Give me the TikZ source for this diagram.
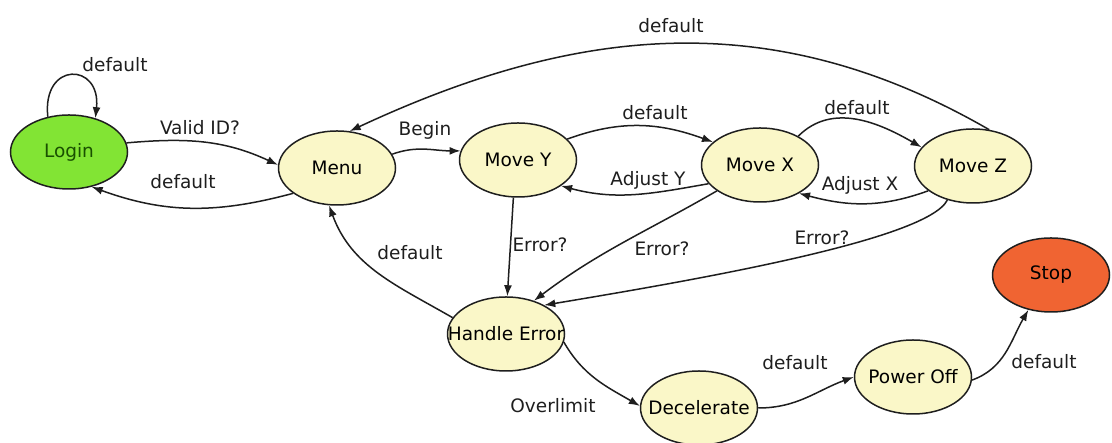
\documentclass[tikz,border=0pt]{standalone}
\usepackage{fontspec}
\setmainfont{DejaVu Sans}
\usetikzlibrary{shapes.geometric,arrows.meta}
\definecolor{cream}{RGB}{250,247,200}
\definecolor{lime}{RGB}{130,228,52}
\definecolor{tomato}{RGB}{240,100,50}
\definecolor{ink}{RGB}{30,30,30}
\definecolor{leaf}{RGB}{25,80,0}

\begin{document}
\begin{tikzpicture}[x=1pt,y=1pt,font=\fontsize{18.5}{20}\selectfont,
  state/.style={ellipse,draw=ink,line width=1.5pt,fill=cream,minimum width=117,minimum height=74,inner xsep=-30pt,inner ysep=0pt},
  arc/.style={ink,line width=1.5pt,-{Latex[length=11pt,width=8pt]}}]
\useasboundingbox (0,0) rectangle (1112,443);

\node[state,fill=lime,text=leaf] (login) at (69,291) {Login};
\node[state] (menu) at (337,275) {Menu};
\node[state] (movey) at (518,283) {Move Y};
\node[state] (movex) at (760,278) {Move X};
\node[state] (movez) at (973,277) {Move Z};
\node[state] (handle) at (506,109) {Handle Error};
\node[state] (decel) at (699,35) {Decelerate};
\node[state] (poweroff) at (913,66) {Power Off};
\node[state,fill=tomato] (stop) at (1051,168) {Stop};

\draw[arc] (login.121) .. controls +(-6,56) and +(6,56) .. (login.52) node at (115,378) {default};
\draw[arc] (login.9) to[out=5,in=155] (menu.177) node at (200,315) {Valid ID?};
\draw[arc] (menu.210) to[out=195,in=340] (login.303) node at (183,261) {default};
\draw[arc] (menu.14) to[out=20,in=180] (movey.171) node at (425,313) {Begin};
\draw[arc] (movez.66) to[out=150,in=25] (menu.71) node at (671,417) {default};
\draw[arc] (movey.23) to[out=20,in=160] (movex.154) node at (655,330) {default};
\draw[arc] (movex.200) to[out=190,in=345] (movey.329) node at (648,263) {Adjust Y};
\draw[arc] (movex.37) to[out=45,in=150] (movez.160) node at (857,335) {default};
\draw[arc] (movez.209) to[out=200,in=345] (movex.324) node at (860,258) {Adjust X};
\draw[arc] (movey.263) -- (handle.88) node at (540,198) {Error?};
\draw[arc] (movex.211) to[out=210,in=37] (handle.50) node at (662,194) {Error?};
\draw[arc] (movez.233) .. controls +(-20,-40) and +(150,25) .. (handle.37) node at (822,205) {Error?};
\draw[arc] (handle.163) to[out=150,in=-70] (menu.258) node at (410,190) {default};
\draw[arc] (handle.352) to[out=-60,in=150] (decel.178) node at (553,37) {Overlimit};
\draw[arc] (decel.0) to[out=0,in=200] (poweroff.180) node at (795,80) {default};
\draw[arc] (poweroff.357) to[out=20,in=-120] (stop.237) node at (1044,81) {default};
\end{tikzpicture}
\end{document}
